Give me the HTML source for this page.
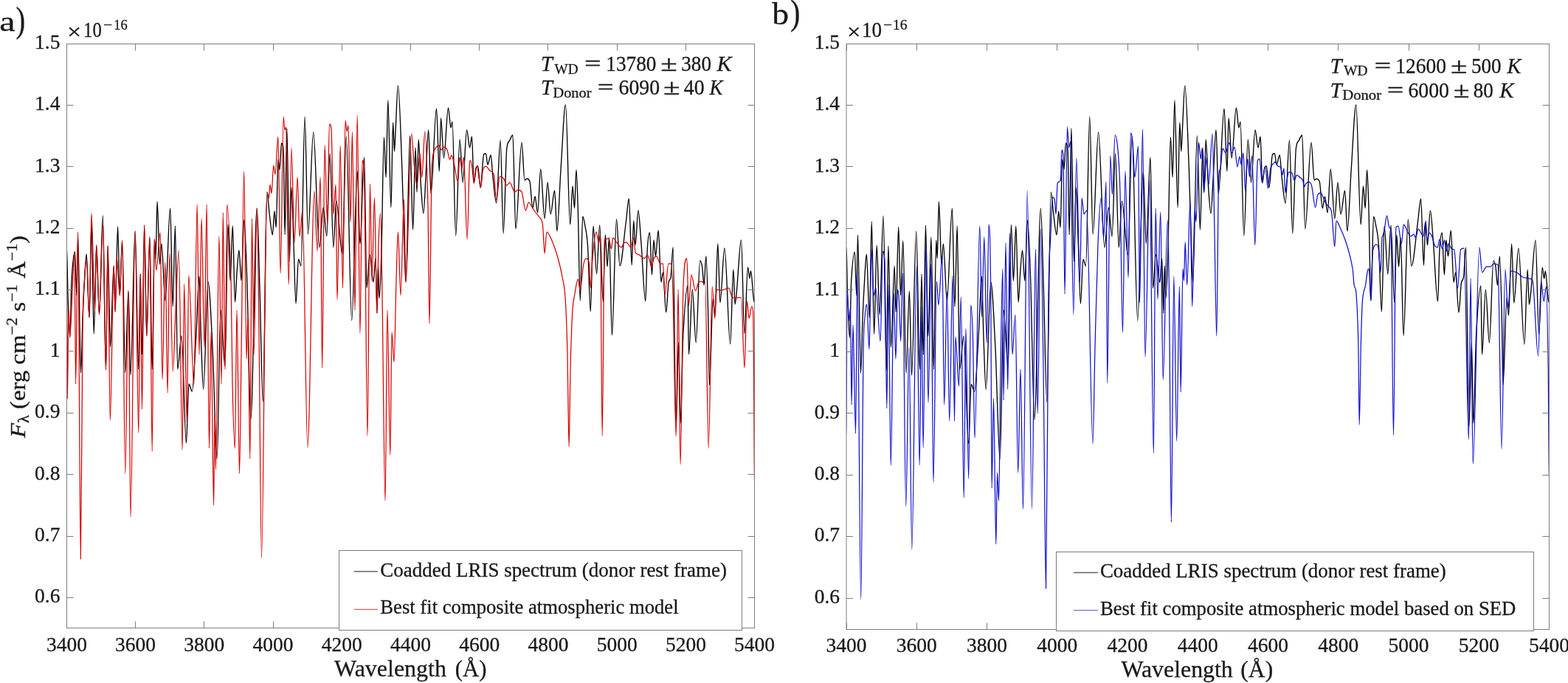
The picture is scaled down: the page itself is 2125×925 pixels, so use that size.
<!DOCTYPE html>
<html><head><meta charset="utf-8"><title>Spectra</title>
<style>html,body{margin:0;padding:0;background:#fff;overflow:hidden;}svg{display:block;}</style>
</head><body>
<svg width="2125" height="925" viewBox="0 0 2125 925" font-family="'Liberation Serif', 'DejaVu Serif', serif" fill="#1a1a1a" stroke="#1a1a1a" stroke-width="0.3">
<defs><clipPath id="ca"><rect x="90.4" y="59.6" width="932.2" height="790.9"/></clipPath><clipPath id="cb"><rect x="1147.0" y="59.3" width="952.5" height="793.0"/></clipPath></defs>
<g clip-path="url(#ca)">
<path d="M90.4,335.0C90.9,335.0 91.5,385.2 92.0,400.0C92.9,425.9 93.9,457.0 94.8,457.0C95.5,457.0 96.3,392.7 97.0,380.0C98.5,354.0 100.0,341.0 101.5,341.0C102.3,341.0 103.2,400.0 104.0,400.0C104.5,400.0 105.1,318.0 105.6,318.0C106.9,318.0 108.2,505.0 109.5,505.0C110.3,505.0 111.2,450.3 112.0,430.0C113.0,405.6 114.0,387.5 115.0,371.0C115.7,358.9 116.5,344.0 117.2,344.0C118.5,344.0 119.7,430.0 121.0,430.0C122.0,430.0 123.0,300.0 124.0,300.0C125.1,300.0 126.1,452.0 127.2,452.0C128.4,452.0 129.5,332.0 130.7,332.0C132.0,332.0 133.2,426.0 134.5,426.0C136.1,426.0 137.8,292.0 139.4,292.0C140.8,292.0 142.1,501.0 143.5,501.0C144.4,501.0 145.2,333.0 146.1,333.0C147.2,333.0 148.4,470.0 149.5,470.0C151.1,470.0 152.6,360.0 154.2,360.0C154.8,360.0 155.5,422.0 156.1,422.0C157.3,422.0 158.4,307.0 159.6,307.0C160.5,307.0 161.4,400.0 162.3,400.0C163.4,400.0 164.5,326.0 165.6,326.0C167.0,326.0 168.3,505.0 169.7,505.0C171.1,505.0 172.6,394.0 174.0,394.0C175.0,394.0 176.0,508.0 177.0,508.0C179.0,508.0 181.1,313.0 183.1,313.0C184.7,313.0 186.2,500.0 187.8,500.0C188.6,500.0 189.4,371.0 190.2,371.0C191.0,371.0 191.7,480.0 192.5,480.0C193.5,480.0 194.6,305.0 195.6,305.0C196.7,305.0 197.7,455.0 198.8,455.0C200.2,455.0 201.5,321.0 202.9,321.0C204.0,321.0 205.1,500.0 206.2,500.0C207.3,500.0 208.5,325.0 209.6,325.0C210.1,325.0 210.5,350.0 211.0,350.0C211.7,350.0 212.4,273.0 213.1,273.0C214.3,273.0 215.4,358.0 216.6,358.0C217.4,358.0 218.2,330.0 219.0,330.0C220.6,330.0 222.3,407.0 223.9,407.0C226.2,407.0 228.4,282.0 230.7,282.0C231.9,282.0 233.0,415.0 234.2,415.0C235.3,415.0 236.3,306.0 237.4,306.0C238.5,306.0 239.6,500.0 240.7,500.0C242.5,500.0 244.2,455.0 246.0,455.0C248.1,455.0 250.3,600.0 252.4,600.0C253.6,600.0 254.8,520.0 256.0,520.0C257.4,520.0 258.9,530.0 260.3,530.0C262.2,530.0 264.1,480.9 266.0,450.0C267.3,428.9 268.6,374.0 269.9,374.0C270.8,374.0 271.7,438.8 272.6,463.0C273.6,489.8 274.6,527.0 275.6,527.0C277.7,527.0 279.9,382.0 282.0,382.0C284.0,382.0 286.0,430.8 288.0,470.0C290.1,510.5 292.1,621.0 294.2,621.0C295.8,621.0 297.4,420.0 299.0,420.0C301.0,420.0 302.9,496.0 304.9,496.0C306.3,496.0 307.6,304.0 309.0,304.0C310.0,304.0 311.0,380.0 312.0,380.0C313.1,380.0 314.2,306.0 315.3,306.0C316.4,306.0 317.4,409.0 318.5,409.0C319.4,409.0 320.3,378.7 321.2,367.0C322.1,355.3 323.0,339.0 323.9,339.0C324.9,339.0 326.0,380.0 327.0,380.0C328.2,380.0 329.5,298.0 330.7,298.0C332.0,298.0 333.4,337.9 334.7,377.0C336.4,427.9 338.2,568.0 339.9,568.0C342.7,568.0 345.4,282.0 348.2,282.0C349.5,282.0 350.7,349.5 352.0,390.0C353.5,436.9 354.9,544.0 356.4,544.0C358.2,544.0 360.0,260.0 361.8,260.0C363.0,260.0 364.1,282.0 365.3,291.0C366.6,301.3 368.0,318.0 369.3,318.0C370.2,318.0 371.1,286.0 372.0,286.0C372.7,286.0 373.5,308.0 374.2,308.0C375.1,308.0 376.0,216.0 376.9,216.0C377.6,216.0 378.3,230.0 379.0,230.0C379.8,230.0 380.7,194.0 381.5,194.0C382.4,194.0 383.3,194.0 384.2,205.0C384.8,212.7 385.5,318.0 386.1,318.0C387.0,318.0 387.9,174.0 388.8,174.0C390.0,174.0 391.1,354.0 392.3,354.0C393.2,354.0 394.1,254.0 395.0,254.0C396.0,254.0 397.0,303.8 398.0,330.0C399.0,356.2 400.0,411.0 401.0,411.0C402.2,411.0 403.3,351.0 404.5,351.0C405.7,351.0 406.8,360.0 408.0,360.0C409.7,360.0 411.4,158.0 413.1,158.0C414.5,158.0 416.0,317.0 417.4,317.0C419.8,317.0 422.3,179.0 424.7,179.0C427.4,179.0 430.1,335.0 432.8,335.0C434.6,335.0 436.4,281.0 438.2,281.0C439.7,281.0 441.3,320.0 442.8,320.0C444.3,320.0 445.7,208.0 447.2,208.0C448.7,208.0 450.3,335.0 451.8,335.0C453.1,335.0 454.5,272.0 455.8,272.0C458.5,272.0 461.2,345.0 463.9,345.0C465.7,345.0 467.5,185.0 469.3,185.0C471.8,185.0 474.2,434.0 476.7,434.0C479.2,434.0 481.7,232.0 484.2,232.0C485.5,232.0 486.7,330.0 488.0,330.0C489.9,330.0 491.7,213.0 493.6,213.0C494.7,213.0 495.9,390.0 497.0,390.0C498.3,390.0 499.7,345.0 501.0,345.0C502.7,345.0 504.3,382.0 506.0,382.0C507.0,382.0 508.0,350.0 509.0,350.0C509.7,350.0 510.3,424.0 511.0,424.0C511.5,424.0 512.0,360.0 512.5,360.0C513.0,360.0 513.5,404.0 514.0,404.0C515.0,404.0 516.0,374.1 517.0,340.0C518.1,301.4 519.3,186.0 520.4,186.0C521.3,186.0 522.2,240.0 523.1,240.0C524.0,240.0 524.9,136.0 525.8,136.0C527.2,136.0 528.5,281.0 529.9,281.0C530.8,281.0 531.7,166.0 532.6,166.0C533.2,166.0 533.9,205.0 534.5,205.0C535.0,205.0 535.6,185.7 536.1,176.0C537.2,156.0 538.3,116.0 539.4,116.0C541.2,116.0 543.0,180.3 544.8,227.0C546.1,261.6 547.5,320.3 548.8,360.0C549.2,371.9 549.6,382.0 550.0,382.0C551.9,382.0 553.7,184.0 555.6,184.0C556.9,184.0 558.3,311.0 559.6,311.0C560.8,311.0 561.9,200.0 563.1,200.0C563.7,200.0 564.4,260.0 565.0,260.0C565.7,260.0 566.5,189.0 567.2,189.0C568.3,189.0 569.3,235.1 570.4,251.0C571.6,268.4 572.7,289.0 573.9,289.0C574.9,289.0 576.0,257.2 577.0,240.0C578.2,219.5 579.5,176.0 580.7,176.0C581.8,176.0 582.9,262.0 584.0,262.0C586.5,262.0 589.0,147.0 591.5,147.0C592.8,147.0 594.0,232.0 595.3,232.0C596.0,232.0 596.8,160.0 597.5,160.0C598.8,160.0 600.2,214.0 601.5,214.0C603.5,214.0 605.5,146.0 607.5,146.0C608.7,146.0 609.8,173.0 611.0,173.0C611.7,173.0 612.3,165.0 613.0,165.0C614.6,165.0 616.1,319.0 617.7,319.0C619.5,319.0 621.3,189.0 623.1,189.0C624.5,189.0 625.8,247.0 627.2,247.0C629.0,247.0 630.8,176.0 632.6,176.0C633.9,176.0 635.3,200.0 636.6,200.0C637.6,200.0 638.5,185.0 639.5,185.0C640.4,185.0 641.3,248.0 642.2,248.0C643.1,248.0 644.0,231.0 644.9,228.0C645.8,225.0 646.7,225.0 647.6,225.0C648.8,225.0 649.9,254.0 651.1,254.0C652.6,254.0 654.2,210.7 655.7,209.0C656.6,208.0 657.5,208.0 658.4,208.0C659.3,208.0 660.1,223.0 661.0,223.0C662.4,223.0 663.7,210.0 665.1,210.0C666.1,210.0 667.0,231.7 668.0,240.0C669.6,253.4 671.1,275.0 672.7,275.0C674.5,275.0 676.3,190.0 678.1,190.0C679.5,190.0 680.8,316.0 682.2,316.0C683.7,316.0 685.3,213.6 686.8,201.0C688.1,190.0 689.5,193.0 690.8,190.0C692.2,187.0 693.5,183.0 694.9,183.0C696.2,183.0 697.6,310.0 698.9,310.0C701.6,310.0 704.3,193.0 707.0,193.0C708.3,193.0 709.7,244.0 711.0,244.0C712.0,244.0 713.0,242.0 714.0,242.0C715.3,242.0 716.7,242.0 718.0,246.0C719.3,249.9 720.6,282.0 721.9,282.0C723.0,282.0 724.0,266.0 725.1,266.0C726.3,266.0 727.4,288.0 728.6,288.0C730.0,288.0 731.3,229.0 732.7,229.0C734.5,229.0 736.3,296.0 738.1,296.0C739.5,296.0 740.8,247.0 742.2,247.0C743.5,247.0 744.9,290.0 746.2,290.0C748.0,290.0 749.8,258.0 751.6,258.0C752.7,258.0 753.8,313.0 754.9,313.0C756.6,313.0 758.3,255.1 760.0,230.0C762.2,198.1 764.3,142.0 766.5,142.0C768.6,142.0 770.6,304.0 772.7,304.0C773.8,304.0 774.9,252.0 776.0,252.0C776.9,252.0 777.7,282.0 778.6,282.0C779.4,282.0 780.2,230.0 781.0,230.0C781.7,230.0 782.5,255.5 783.2,280.0C784.2,314.5 785.3,407.0 786.3,407.0C787.4,407.0 788.6,293.0 789.7,293.0C790.7,293.0 791.7,299.1 792.7,305.0C794.0,312.5 795.2,313.5 796.5,333.0C797.8,352.5 799.0,422.0 800.3,422.0C801.5,422.0 802.8,306.0 804.0,306.0C805.5,306.0 807.1,371.0 808.6,371.0C810.0,371.0 811.3,305.0 812.7,305.0C814.2,305.0 815.8,409.0 817.3,409.0C818.3,409.0 819.3,318.0 820.3,318.0C821.2,318.0 822.1,361.0 823.0,361.0C823.9,361.0 824.7,322.0 825.6,322.0C826.9,322.0 828.1,454.0 829.4,454.0C831.4,454.0 833.5,297.0 835.5,297.0C837.0,297.0 838.5,360.0 840.0,360.0C842.8,360.0 845.5,321.3 848.3,301.0C849.7,291.0 851.0,269.0 852.4,269.0C853.7,269.0 854.9,359.0 856.2,359.0C857.0,359.0 857.9,299.0 858.7,299.0C859.5,299.0 860.3,332.0 861.1,332.0C862.4,332.0 863.6,285.0 864.9,285.0C866.3,285.0 867.6,313.0 869.0,330.0C870.9,354.0 872.9,408.0 874.8,408.0C875.6,408.0 876.5,350.6 877.3,337.0C878.4,319.6 879.4,315.0 880.5,315.0C881.5,315.0 882.5,372.0 883.5,372.0C884.3,372.0 885.2,325.0 886.0,325.0C886.8,325.0 887.7,347.0 888.5,347.0C889.7,347.0 891.0,312.0 892.2,312.0C893.5,312.0 894.7,382.0 896.0,382.0C896.8,382.0 897.7,369.0 898.5,369.0C899.9,369.0 901.3,423.0 902.7,423.0C903.8,423.0 904.8,392.0 905.9,384.0C907.0,375.7 908.1,382.7 909.2,374.0C910.2,366.4 911.1,335.0 912.1,335.0C913.5,335.0 914.8,577.0 916.2,577.0C917.4,577.0 918.5,464.0 919.7,464.0C920.5,464.0 921.3,573.0 922.1,573.0C923.3,573.0 924.6,477.2 925.8,454.0C927.9,415.2 929.9,387.0 932.0,387.0C932.5,387.0 933.0,480.0 933.5,480.0C935.1,480.0 936.7,392.0 938.3,392.0C939.9,392.0 941.6,464.0 943.2,464.0C945.0,464.0 946.9,353.0 948.7,353.0C949.7,353.0 950.7,355.8 951.7,362.0C952.5,366.8 953.2,386.0 954.0,386.0C955.0,386.0 955.9,347.0 956.9,347.0C957.8,347.0 958.8,389.9 959.7,426.0C960.3,447.9 960.8,521.0 961.4,521.0C963.1,521.0 964.7,403.0 966.4,403.0C967.2,403.0 968.0,427.0 968.8,427.0C970.1,427.0 971.5,330.0 972.8,330.0C973.8,330.0 974.9,410.0 975.9,410.0C977.9,410.0 979.9,336.0 981.9,336.0C984.5,336.0 987.1,466.0 989.7,466.0C991.1,466.0 992.4,365.0 993.8,365.0C994.6,365.0 995.3,412.0 996.1,412.0C996.9,412.0 997.7,401.3 998.5,393.0C1000.5,372.3 1002.5,325.0 1004.5,325.0C1006.0,325.0 1007.4,452.0 1008.9,452.0C1010.4,452.0 1012.0,362.0 1013.5,362.0C1014.3,362.0 1015.1,377.0 1015.9,377.0C1016.4,377.0 1017.0,367.0 1017.5,367.0C1018.7,367.0 1019.9,392.9 1021.1,403.0C1021.6,407.2 1022.1,410.0 1022.6,410.0" fill="none" stroke="#000" stroke-width="1.35" stroke-linejoin="round" stroke-opacity="1.0"/>
<path d="M90.4,345.0C90.7,345.0 91.0,540.0 91.3,540.0C91.9,540.0 92.4,420.0 93.0,420.0C93.6,420.0 94.2,455.0 94.8,455.0C95.9,455.0 96.9,414.6 98.0,395.0C99.0,376.6 100.0,341.0 101.0,341.0C101.5,341.0 102.1,520.0 102.6,520.0C103.6,520.0 104.6,314.0 105.6,314.0C106.8,314.0 108.1,757.0 109.3,757.0C110.2,757.0 111.1,510.9 112.0,450.0C113.0,382.3 114.0,389.8 115.0,371.0C115.7,357.2 116.5,352.0 117.2,352.0C118.5,352.0 119.7,430.0 121.0,430.0C122.0,430.0 123.0,289.0 124.0,289.0C125.5,289.0 127.0,422.0 128.5,422.0C129.2,422.0 130.0,332.0 130.7,332.0C132.0,332.0 133.2,426.0 134.5,426.0C136.1,426.0 137.8,305.0 139.4,305.0C140.8,305.0 142.1,501.0 143.5,501.0C144.4,501.0 145.2,333.0 146.1,333.0C147.2,333.0 148.2,569.0 149.3,569.0C150.9,569.0 152.6,360.0 154.2,360.0C154.8,360.0 155.5,422.0 156.1,422.0C156.8,422.0 157.6,349.0 158.3,349.0C159.6,349.0 161.0,400.0 162.3,400.0C163.4,400.0 164.5,326.0 165.6,326.0C167.0,326.0 168.3,642.0 169.7,642.0C171.1,642.0 172.6,394.0 174.0,394.0C175.0,394.0 176.0,700.0 177.0,700.0C179.0,700.0 181.1,313.0 183.1,313.0C184.7,313.0 186.2,586.0 187.8,586.0C188.6,586.0 189.4,371.0 190.2,371.0C191.0,371.0 191.7,554.0 192.5,554.0C193.5,554.0 194.6,305.0 195.6,305.0C196.7,305.0 197.7,455.0 198.8,455.0C200.2,455.0 201.5,321.0 202.9,321.0C204.0,321.0 205.1,611.0 206.2,611.0C207.1,611.0 208.1,323.0 209.0,323.0C209.9,323.0 210.9,366.0 211.8,366.0C213.6,366.0 215.4,315.0 217.2,315.0C218.1,315.0 219.1,514.0 220.0,514.0C221.3,514.0 222.6,355.0 223.9,355.0C225.0,355.0 226.0,532.0 227.1,532.0C228.0,532.0 229.0,343.0 229.9,343.0C231.4,343.0 232.8,503.0 234.3,503.0C235.5,503.0 236.8,445.3 238.0,420.0C239.4,390.6 240.9,339.0 242.3,339.0C243.9,339.0 245.5,609.0 247.1,609.0C247.9,609.0 248.8,385.0 249.6,385.0C250.8,385.0 252.0,571.0 253.2,571.0C254.1,571.0 254.9,373.0 255.8,373.0C258.1,373.0 260.5,521.0 262.8,521.0C264.3,521.0 265.7,277.0 267.2,277.0C268.1,277.0 269.1,480.0 270.0,480.0C271.0,480.0 272.1,296.0 273.1,296.0C274.4,296.0 275.7,470.0 277.0,470.0C278.0,470.0 279.1,277.0 280.1,277.0C281.2,277.0 282.4,607.0 283.5,607.0C284.3,607.0 285.2,450.0 286.0,450.0C287.2,450.0 288.4,684.0 289.6,684.0C290.1,684.0 290.5,560.0 291.0,560.0C291.5,560.0 291.9,636.0 292.4,636.0C293.9,636.0 295.4,320.0 296.9,320.0C297.9,320.0 299.0,520.0 300.0,520.0C300.8,520.0 301.5,288.0 302.3,288.0C303.2,288.0 304.1,500.0 305.0,500.0C305.9,500.0 306.8,277.0 307.7,277.0C309.5,277.0 311.3,322.1 313.1,382.0C313.7,403.1 314.4,493.1 315.0,520.0C316.1,568.1 317.3,607.0 318.4,607.0C319.3,607.0 320.1,420.0 321.0,420.0C322.2,420.0 323.3,641.0 324.5,641.0C325.3,641.0 326.2,535.0 327.0,480.0C328.2,398.6 329.5,232.0 330.7,232.0C331.8,232.0 333.0,486.0 334.1,486.0C334.7,486.0 335.4,430.0 336.0,430.0C336.9,430.0 337.9,621.0 338.8,621.0C339.7,621.0 340.6,296.0 341.5,296.0C342.3,296.0 343.2,480.0 344.0,480.0C345.4,480.0 346.8,282.0 348.2,282.0C349.1,282.0 350.1,379.8 351.0,450.0C352.2,537.8 353.3,756.0 354.5,756.0C356.3,756.0 358.2,441.8 360.0,330.0C360.9,277.1 361.7,262.0 362.6,262.0C363.2,262.0 363.9,268.0 364.5,268.0C365.0,268.0 365.5,250.0 366.0,250.0C366.7,250.0 367.3,262.0 368.0,262.0C368.9,262.0 369.8,224.0 370.7,224.0C371.5,224.0 372.2,236.0 373.0,236.0C374.3,236.0 375.6,185.0 376.9,185.0C378.0,185.0 379.0,370.0 380.1,370.0C381.5,370.0 382.8,158.0 384.2,158.0C384.7,158.0 385.3,176.0 385.8,176.0C386.4,176.0 387.1,172.0 387.7,172.0C388.9,172.0 390.0,385.0 391.2,385.0C392.5,385.0 393.7,200.0 395.0,200.0C396.3,200.0 397.7,329.0 399.0,329.0C400.4,329.0 401.7,240.0 403.1,240.0C404.1,240.0 405.0,320.0 406.0,320.0C407.3,320.0 408.6,286.0 409.9,286.0C412.2,286.0 414.6,606.0 416.9,606.0C419.9,606.0 423.0,259.0 426.0,259.0C427.3,259.0 428.7,340.0 430.0,340.0C431.4,340.0 432.8,240.0 434.2,240.0C435.0,240.0 435.8,498.0 436.6,498.0C437.8,498.0 438.9,197.0 440.1,197.0C441.3,197.0 442.4,302.0 443.6,302.0C444.5,302.0 445.5,168.0 446.4,168.0C447.3,168.0 448.1,168.0 449.0,175.0C450.0,183.1 451.0,290.0 452.0,290.0C453.0,290.0 454.0,250.0 455.0,250.0C455.7,250.0 456.3,406.0 457.0,406.0C458.4,406.0 459.8,197.0 461.2,197.0C462.3,197.0 463.4,390.0 464.5,390.0C465.7,390.0 466.8,163.0 468.0,163.0C468.7,163.0 469.3,178.0 470.0,178.0C470.7,178.0 471.3,170.0 472.0,170.0C473.0,170.0 474.0,300.0 475.0,300.0C475.8,300.0 476.6,179.0 477.4,179.0C478.6,179.0 479.8,420.0 481.0,420.0C482.1,420.0 483.1,156.0 484.2,156.0C485.5,156.0 486.7,451.0 488.0,451.0C489.0,451.0 490.0,217.0 491.0,217.0C492.0,217.0 493.0,217.0 494.0,260.0C495.3,317.3 496.7,590.0 498.0,590.0C499.2,590.0 500.3,249.0 501.5,249.0C502.3,249.0 503.2,380.0 504.0,380.0C505.2,380.0 506.3,268.0 507.5,268.0C508.6,268.0 509.7,424.0 510.8,424.0C511.5,424.0 512.3,350.6 513.0,330.0C513.9,305.6 514.7,289.0 515.6,289.0C516.4,289.0 517.2,351.4 518.0,400.0C519.3,481.0 520.7,678.0 522.0,678.0C523.0,678.0 524.0,420.0 525.0,420.0C526.3,420.0 527.5,616.0 528.8,616.0C529.5,616.0 530.3,450.0 531.0,450.0C532.0,450.0 533.0,490.0 534.0,490.0C535.0,490.0 536.0,412.6 537.0,380.0C537.8,353.9 538.6,314.0 539.4,314.0C540.6,314.0 541.8,400.0 543.0,400.0C544.5,400.0 546.0,270.0 547.5,270.0C548.3,270.0 549.2,382.0 550.0,382.0C552.6,382.0 555.1,181.0 557.7,181.0C558.8,181.0 559.9,209.5 561.0,220.0C562.3,232.8 563.7,251.0 565.0,251.0C566.4,251.0 567.7,208.0 569.1,208.0C570.0,208.0 570.9,240.0 571.8,240.0C573.1,240.0 574.5,178.0 575.8,178.0C577.2,178.0 578.5,218.7 579.9,276.0C580.6,305.4 581.3,438.0 582.0,438.0C583.1,438.0 584.2,238.7 585.3,224.0C587.1,200.0 588.9,204.0 590.7,200.0C592.1,197.0 593.4,197.0 594.8,197.0C595.9,197.0 596.9,203.0 598.0,203.0C599.3,203.0 600.7,199.0 602.0,199.0C603.3,199.0 604.7,200.0 606.0,203.0C607.2,205.7 608.4,216.0 609.6,216.0C610.4,216.0 611.2,210.0 612.0,210.0C613.3,210.0 614.7,219.3 616.0,225.0C617.5,231.3 618.9,246.0 620.4,246.0C621.3,246.0 622.2,213.0 623.1,213.0C624.1,213.0 625.0,228.0 626.0,228.0C626.8,228.0 627.7,213.0 628.5,213.0C630.0,213.0 631.6,324.0 633.1,324.0C634.3,324.0 635.4,226.0 636.6,219.0C636.9,217.0 637.3,217.0 637.6,217.0C638.4,217.0 639.2,222.6 640.0,228.0C640.7,232.9 641.5,248.0 642.2,248.0C643.5,248.0 644.9,225.0 646.2,225.0C648.0,225.0 649.8,254.0 651.6,254.0C652.5,254.0 653.4,234.8 654.3,231.0C655.7,225.2 657.0,225.0 658.4,225.0C660.2,225.0 662.0,229.2 663.8,231.0C665.6,232.8 667.4,231.0 669.2,236.0C670.4,239.2 671.5,271.0 672.7,271.0C674.2,271.0 675.8,239.0 677.3,239.0C679.1,239.0 680.9,239.7 682.7,242.0C684.1,243.7 685.4,251.0 686.8,251.0C688.1,251.0 689.5,247.0 690.8,247.0C693.1,247.0 695.3,260.0 697.6,260.0C699.1,260.0 700.5,257.0 702.0,257.0C703.7,257.0 705.3,257.0 707.0,260.0C708.8,263.2 710.6,285.0 712.4,285.0C713.8,285.0 715.1,274.0 716.5,274.0C718.3,274.0 720.1,279.3 721.9,282.0C723.3,284.0 724.6,286.1 726.0,288.0C727.3,289.8 728.7,290.7 730.0,293.0C731.8,296.1 733.6,293.0 735.4,304.0C736.3,309.5 737.2,343.0 738.1,343.0C739.0,343.0 740.0,314.0 740.9,314.0C743.6,314.0 746.2,321.6 748.9,328.0C751.5,334.3 754.2,342.6 756.8,352.0C758.5,358.2 760.3,365.2 762.0,375.0C763.4,382.9 764.8,384.0 766.2,405.0C767.1,419.0 768.1,441.9 769.0,480.0C769.7,508.6 770.4,605.0 771.1,605.0C771.7,605.0 772.4,524.9 773.0,500.0C773.9,464.6 774.8,439.3 775.7,424.0C776.8,405.3 777.9,404.7 779.0,398.0C780.4,389.4 781.8,378.0 783.2,378.0C784.2,378.0 785.3,393.0 786.3,393.0C787.8,393.0 789.3,365.8 790.8,358.0C792.1,351.4 793.3,350.0 794.6,350.0C795.9,350.0 797.1,350.0 798.4,356.0C799.0,359.0 799.7,390.0 800.3,390.0C801.2,390.0 802.1,359.1 803.0,350.0C804.6,333.8 806.2,314.0 807.8,314.0C809.1,314.0 810.3,329.0 811.6,329.0C812.2,329.0 812.9,318.0 813.5,318.0C814.4,318.0 815.3,590.0 816.2,590.0C817.2,590.0 818.2,326.1 819.2,325.0C821.1,323.0 823.0,323.0 824.9,323.0C826.1,323.0 827.4,337.0 828.6,337.0C829.2,337.0 829.9,322.0 830.5,322.0C832.4,322.0 834.3,326.8 836.2,329.0C838.1,331.2 840.0,335.0 841.9,335.0C843.2,335.0 844.4,330.3 845.7,329.0C846.7,328.0 847.7,328.0 848.7,328.0C850.8,328.0 852.9,335.0 855.0,335.0C856.2,335.0 857.5,322.0 858.7,322.0C859.5,322.0 860.3,340.5 861.1,342.0C862.7,345.0 864.4,343.9 866.0,345.0C867.3,345.9 868.6,347.1 869.9,348.0C871.1,348.8 872.4,350.0 873.6,350.0C874.8,350.0 876.1,345.0 877.3,345.0C878.5,345.0 879.8,351.2 881.0,355.0C881.6,356.9 882.2,362.0 882.8,362.0C883.9,362.0 884.9,352.3 886.0,350.0C887.3,347.3 888.5,347.0 889.8,347.0C891.4,347.0 893.1,357.0 894.7,357.0C896.0,357.0 897.2,357.0 898.5,357.0C899.3,357.0 900.2,399.0 901.0,399.0C902.6,399.0 904.3,357.0 905.9,357.0C907.1,357.0 908.4,357.0 909.6,357.0C910.4,357.0 911.2,371.6 912.0,400.0C913.4,449.6 914.8,591.0 916.2,591.0C917.2,591.0 918.1,392.0 919.1,392.0C920.1,392.0 921.1,629.0 922.1,629.0C923.4,629.0 924.7,417.1 926.0,387.0C927.6,350.0 929.2,350.0 930.8,350.0C931.6,350.0 932.5,414.0 933.3,414.0C934.5,414.0 935.8,372.0 937.0,372.0C938.8,372.0 940.7,394.0 942.5,394.0C944.0,394.0 945.5,383.2 947.0,382.0C948.2,381.0 949.5,381.0 950.7,381.0C951.9,381.0 953.2,384.0 954.4,384.0C954.8,384.0 955.3,382.0 955.7,382.0C957.2,382.0 958.7,607.0 960.2,607.0C961.9,607.0 963.5,388.0 965.2,388.0C966.4,388.0 967.6,431.0 968.8,431.0C969.6,431.0 970.4,392.0 971.2,392.0C973.2,392.0 975.1,393.0 977.1,393.0C978.7,393.0 980.3,392.4 981.9,392.0C983.9,391.4 985.8,390.0 987.8,390.0C989.4,390.0 991.0,403.0 992.6,403.0C994.6,403.0 996.5,403.0 998.5,403.0C1000.5,403.0 1002.5,403.0 1004.5,403.0C1006.0,403.0 1007.4,498.0 1008.9,498.0C1010.0,498.0 1011.2,408.0 1012.3,408.0C1013.3,408.0 1014.2,431.0 1015.2,431.0C1016.4,431.0 1017.5,415.0 1018.7,415.0C1019.3,415.0 1019.9,415.0 1020.5,421.0C1020.8,424.3 1021.2,460.8 1021.5,500.0C1021.9,543.1 1022.2,668.0 1022.6,668.0" fill="none" stroke="#d80000" stroke-width="1.25" stroke-linejoin="round" stroke-opacity="1.0"/>
</g>
<g clip-path="url(#cb)">
<path d="M1147.0,335.1C1147.5,335.1 1148.1,385.4 1148.6,400.2C1149.6,426.1 1150.5,457.2 1151.5,457.2C1152.2,457.2 1153.0,392.9 1153.7,380.2C1155.3,354.2 1156.8,341.1 1158.3,341.1C1159.2,341.1 1160.0,400.2 1160.9,400.2C1161.4,400.2 1162.0,318.1 1162.5,318.1C1163.9,318.1 1165.2,505.3 1166.5,505.3C1167.4,505.3 1168.2,450.5 1169.1,430.2C1170.1,405.8 1171.1,387.7 1172.1,371.2C1172.9,359.0 1173.6,344.1 1174.4,344.1C1175.7,344.1 1177.0,430.2 1178.3,430.2C1179.3,430.2 1180.3,300.1 1181.3,300.1C1182.4,300.1 1183.5,452.2 1184.6,452.2C1185.8,452.2 1187.0,332.1 1188.2,332.1C1189.5,332.1 1190.8,426.2 1192.1,426.2C1193.7,426.2 1195.4,292.1 1197.1,292.1C1198.5,292.1 1199.9,501.3 1201.3,501.3C1202.1,501.3 1203.0,333.1 1203.9,333.1C1205.1,333.1 1206.2,470.2 1207.4,470.2C1209.0,470.2 1210.6,360.2 1212.2,360.2C1212.8,360.2 1213.5,422.2 1214.1,422.2C1215.3,422.2 1216.5,307.1 1217.7,307.1C1218.6,307.1 1219.5,400.2 1220.5,400.2C1221.6,400.2 1222.7,326.1 1223.8,326.1C1225.2,326.1 1226.6,505.3 1228.0,505.3C1229.5,505.3 1231.0,394.2 1232.4,394.2C1233.4,394.2 1234.5,508.3 1235.5,508.3C1237.6,508.3 1239.6,313.1 1241.7,313.1C1243.3,313.1 1244.9,500.3 1246.5,500.3C1247.3,500.3 1248.2,371.2 1249.0,371.2C1249.8,371.2 1250.5,480.3 1251.3,480.3C1252.4,480.3 1253.4,305.1 1254.5,305.1C1255.6,305.1 1256.7,455.2 1257.8,455.2C1259.2,455.2 1260.6,321.1 1261.9,321.1C1263.1,321.1 1264.2,500.3 1265.3,500.3C1266.5,500.3 1267.6,325.1 1268.8,325.1C1269.3,325.1 1269.7,350.1 1270.2,350.1C1270.9,350.1 1271.7,273.1 1272.4,273.1C1273.6,273.1 1274.8,358.2 1275.9,358.2C1276.8,358.2 1277.6,330.1 1278.4,330.1C1280.1,330.1 1281.7,407.2 1283.4,407.2C1285.7,407.2 1288.0,282.1 1290.4,282.1C1291.5,282.1 1292.7,415.2 1293.9,415.2C1295.0,415.2 1296.1,306.1 1297.2,306.1C1298.3,306.1 1299.4,500.3 1300.6,500.3C1302.4,500.3 1304.2,455.2 1306.0,455.2C1308.2,455.2 1310.3,600.4 1312.5,600.4C1313.8,600.4 1315.0,520.3 1316.2,520.3C1317.7,520.3 1319.1,530.3 1320.6,530.3C1322.5,530.3 1324.5,481.1 1326.4,450.2C1327.8,429.1 1329.1,374.2 1330.4,374.2C1331.3,374.2 1332.2,439.1 1333.2,463.2C1334.2,490.1 1335.2,527.3 1336.2,527.3C1338.4,527.3 1340.6,382.2 1342.8,382.2C1344.8,382.2 1346.9,431.0 1348.9,470.2C1351.0,510.8 1353.1,621.4 1355.2,621.4C1356.9,621.4 1358.5,420.2 1360.1,420.2C1362.2,420.2 1364.2,496.3 1366.2,496.3C1367.6,496.3 1369.0,304.1 1370.4,304.1C1371.4,304.1 1372.4,380.2 1373.4,380.2C1374.5,380.2 1375.7,306.1 1376.8,306.1C1377.9,306.1 1379.0,409.2 1380.1,409.2C1381.0,409.2 1381.9,378.8 1382.8,367.2C1383.7,355.5 1384.7,339.1 1385.6,339.1C1386.6,339.1 1387.7,380.2 1388.8,380.2C1390.0,380.2 1391.3,298.1 1392.5,298.1C1393.9,298.1 1395.3,338.0 1396.6,377.2C1398.4,428.1 1400.2,568.3 1401.9,568.3C1404.8,568.3 1407.6,282.1 1410.4,282.1C1411.7,282.1 1413.0,349.7 1414.3,390.2C1415.8,437.1 1417.3,544.3 1418.8,544.3C1420.6,544.3 1422.5,260.1 1424.3,260.1C1425.5,260.1 1426.7,282.1 1427.9,291.1C1429.2,301.4 1430.6,318.1 1432.0,318.1C1432.9,318.1 1433.8,286.1 1434.7,286.1C1435.5,286.1 1436.2,308.1 1437.0,308.1C1437.9,308.1 1438.8,216.0 1439.7,216.0C1440.5,216.0 1441.2,230.0 1441.9,230.0C1442.7,230.0 1443.6,194.0 1444.4,194.0C1445.4,194.0 1446.3,194.0 1447.2,205.0C1447.8,212.8 1448.5,318.1 1449.1,318.1C1450.1,318.1 1451.0,174.0 1451.9,174.0C1453.1,174.0 1454.3,354.1 1455.5,354.1C1456.4,354.1 1457.3,254.1 1458.2,254.1C1459.3,254.1 1460.3,303.9 1461.3,330.1C1462.3,356.3 1463.3,411.2 1464.4,411.2C1465.6,411.2 1466.7,351.1 1467.9,351.1C1469.1,351.1 1470.3,360.2 1471.5,360.2C1473.3,360.2 1475.0,158.0 1476.7,158.0C1478.2,158.0 1479.7,317.1 1481.1,317.1C1483.6,317.1 1486.1,179.0 1488.6,179.0C1491.3,179.0 1494.1,335.1 1496.9,335.1C1498.7,335.1 1500.5,281.1 1502.4,281.1C1503.9,281.1 1505.5,320.1 1507.1,320.1C1508.6,320.1 1510.1,208.0 1511.6,208.0C1513.1,208.0 1514.7,335.1 1516.3,335.1C1517.6,335.1 1519.0,272.1 1520.4,272.1C1523.1,272.1 1525.9,345.1 1528.6,345.1C1530.5,345.1 1532.3,185.0 1534.2,185.0C1536.7,185.0 1539.2,434.2 1541.7,434.2C1544.3,434.2 1546.8,232.0 1549.4,232.0C1550.7,232.0 1552.0,330.1 1553.3,330.1C1555.2,330.1 1557.1,213.0 1559.0,213.0C1560.1,213.0 1561.3,390.2 1562.5,390.2C1563.8,390.2 1565.2,345.1 1566.5,345.1C1568.2,345.1 1569.9,382.2 1571.7,382.2C1572.7,382.2 1573.7,350.1 1574.7,350.1C1575.4,350.1 1576.1,424.2 1576.8,424.2C1577.3,424.2 1577.8,360.2 1578.3,360.2C1578.8,360.2 1579.3,404.2 1579.8,404.2C1580.8,404.2 1581.9,374.2 1582.9,340.1C1584.0,301.5 1585.2,186.0 1586.4,186.0C1587.3,186.0 1588.2,240.1 1589.1,240.1C1590.0,240.1 1591.0,136.0 1591.9,136.0C1593.3,136.0 1594.7,281.1 1596.1,281.1C1597.0,281.1 1597.9,166.0 1598.8,166.0C1599.5,166.0 1600.1,205.0 1600.8,205.0C1601.3,205.0 1601.9,185.7 1602.4,176.0C1603.5,156.0 1604.7,115.9 1605.8,115.9C1607.6,115.9 1609.5,180.3 1611.3,227.0C1612.7,261.7 1614.0,320.4 1615.4,360.2C1615.8,372.1 1616.2,382.2 1616.6,382.2C1618.5,382.2 1620.4,184.0 1622.3,184.0C1623.7,184.0 1625.1,311.1 1626.4,311.1C1627.6,311.1 1628.8,200.0 1630.0,200.0C1630.6,200.0 1631.3,260.1 1631.9,260.1C1632.7,260.1 1633.4,189.0 1634.2,189.0C1635.3,189.0 1636.4,235.1 1637.5,251.1C1638.6,268.5 1639.8,289.1 1641.0,289.1C1642.1,289.1 1643.1,257.2 1644.2,240.1C1645.5,219.5 1646.7,176.0 1648.0,176.0C1649.1,176.0 1650.2,262.1 1651.3,262.1C1653.9,262.1 1656.5,147.0 1659.0,147.0C1660.3,147.0 1661.6,232.0 1662.9,232.0C1663.6,232.0 1664.4,160.0 1665.1,160.0C1666.5,160.0 1667.9,214.0 1669.2,214.0C1671.3,214.0 1673.3,146.0 1675.4,146.0C1676.6,146.0 1677.7,173.0 1678.9,173.0C1679.6,173.0 1680.3,165.0 1681.0,165.0C1682.6,165.0 1684.2,319.1 1685.8,319.1C1687.6,319.1 1689.5,189.0 1691.3,189.0C1692.7,189.0 1694.1,247.1 1695.5,247.1C1697.3,247.1 1699.2,176.0 1701.0,176.0C1702.4,176.0 1703.7,200.0 1705.1,200.0C1706.1,200.0 1707.1,185.0 1708.1,185.0C1709.0,185.0 1709.9,248.1 1710.8,248.1C1711.7,248.1 1712.7,231.0 1713.6,228.0C1714.5,225.0 1715.4,225.0 1716.3,225.0C1717.5,225.0 1718.7,254.1 1719.9,254.1C1721.5,254.1 1723.0,210.7 1724.6,209.0C1725.5,208.0 1726.4,208.0 1727.4,208.0C1728.3,208.0 1729.1,223.0 1730.0,223.0C1731.4,223.0 1732.8,210.0 1734.2,210.0C1735.2,210.0 1736.2,231.8 1737.2,240.1C1738.8,253.5 1740.4,275.1 1742.0,275.1C1743.8,275.1 1745.7,190.0 1747.5,190.0C1748.9,190.0 1750.3,316.1 1751.7,316.1C1753.3,316.1 1754.8,213.7 1756.4,201.0C1757.7,190.0 1759.1,193.0 1760.5,190.0C1761.9,187.0 1763.3,183.0 1764.7,183.0C1766.0,183.0 1767.4,310.1 1768.8,310.1C1771.5,310.1 1774.3,193.0 1777.0,193.0C1778.4,193.0 1779.8,244.1 1781.1,244.1C1782.1,244.1 1783.2,242.1 1784.2,242.1C1785.5,242.1 1786.9,242.1 1788.3,246.1C1789.6,250.0 1790.9,282.1 1792.3,282.1C1793.3,282.1 1794.4,266.1 1795.5,266.1C1796.7,266.1 1797.9,288.1 1799.1,288.1C1800.5,288.1 1801.9,229.0 1803.3,229.0C1805.1,229.0 1807.0,296.1 1808.8,296.1C1810.2,296.1 1811.6,247.1 1813.0,247.1C1814.4,247.1 1815.7,290.1 1817.1,290.1C1818.9,290.1 1820.8,258.1 1822.6,258.1C1823.7,258.1 1824.8,313.1 1826.0,313.1C1827.7,313.1 1829.4,255.1 1831.2,230.0C1833.4,198.1 1835.6,142.0 1837.8,142.0C1839.9,142.0 1842.0,304.1 1844.2,304.1C1845.3,304.1 1846.4,252.1 1847.5,252.1C1848.4,252.1 1849.3,282.1 1850.2,282.1C1851.0,282.1 1851.8,230.0 1852.6,230.0C1853.4,230.0 1854.1,255.6 1854.9,280.1C1855.9,314.6 1857.0,407.2 1858.1,407.2C1859.2,407.2 1860.4,293.1 1861.5,293.1C1862.6,293.1 1863.6,299.2 1864.6,305.1C1865.9,312.6 1867.2,313.6 1868.5,333.1C1869.8,352.6 1871.1,422.2 1872.4,422.2C1873.6,422.2 1874.9,306.1 1876.1,306.1C1877.7,306.1 1879.3,371.2 1880.8,371.2C1882.2,371.2 1883.6,305.1 1885.0,305.1C1886.6,305.1 1888.2,409.2 1889.7,409.2C1890.8,409.2 1891.8,318.1 1892.8,318.1C1893.7,318.1 1894.6,361.2 1895.6,361.2C1896.4,361.2 1897.3,322.1 1898.2,322.1C1899.5,322.1 1900.8,454.2 1902.1,454.2C1904.2,454.2 1906.2,297.1 1908.3,297.1C1909.9,297.1 1911.4,360.2 1912.9,360.2C1915.8,360.2 1918.6,321.4 1921.4,301.1C1922.8,291.1 1924.2,269.1 1925.6,269.1C1926.9,269.1 1928.2,359.2 1929.5,359.2C1930.3,359.2 1931.2,299.1 1932.0,299.1C1932.8,299.1 1933.7,332.1 1934.5,332.1C1935.8,332.1 1937.1,285.1 1938.4,285.1C1939.8,285.1 1941.2,313.1 1942.6,330.1C1944.5,354.2 1946.5,408.2 1948.5,408.2C1949.3,408.2 1950.2,350.7 1951.0,337.1C1952.1,319.7 1953.2,315.1 1954.3,315.1C1955.3,315.1 1956.3,372.2 1957.4,372.2C1958.2,372.2 1959.1,325.1 1959.9,325.1C1960.8,325.1 1961.6,347.1 1962.5,347.1C1963.7,347.1 1965.0,312.1 1966.3,312.1C1967.6,312.1 1968.8,382.2 1970.1,382.2C1971.0,382.2 1971.8,369.2 1972.7,369.2C1974.1,369.2 1975.6,423.2 1977.0,423.2C1978.1,423.2 1979.2,392.2 1980.3,384.2C1981.4,375.9 1982.5,382.9 1983.6,374.2C1984.6,366.5 1985.6,335.1 1986.6,335.1C1988.0,335.1 1989.4,577.3 1990.8,577.3C1992.0,577.3 1993.2,464.2 1994.4,464.2C1995.2,464.2 1996.0,573.3 1996.8,573.3C1998.1,573.3 1999.3,477.4 2000.6,454.2C2002.7,415.4 2004.8,387.2 2006.9,387.2C2007.4,387.2 2007.9,480.3 2008.5,480.3C2010.1,480.3 2011.7,392.2 2013.4,392.2C2015.0,392.2 2016.7,464.2 2018.4,464.2C2020.2,464.2 2022.1,353.1 2024.0,353.1C2025.0,353.1 2026.0,355.9 2027.1,362.2C2027.8,366.9 2028.6,386.2 2029.4,386.2C2030.4,386.2 2031.4,347.1 2032.4,347.1C2033.3,347.1 2034.3,390.1 2035.2,426.2C2035.8,448.1 2036.4,521.3 2037.0,521.3C2038.7,521.3 2040.4,403.2 2042.1,403.2C2042.9,403.2 2043.7,427.2 2044.5,427.2C2045.9,427.2 2047.3,330.1 2048.6,330.1C2049.7,330.1 2050.7,410.2 2051.8,410.2C2053.8,410.2 2055.9,336.1 2057.9,336.1C2060.6,336.1 2063.2,466.2 2065.9,466.2C2067.3,466.2 2068.7,365.2 2070.1,365.2C2070.9,365.2 2071.6,412.2 2072.4,412.2C2073.2,412.2 2074.1,401.5 2074.9,393.2C2076.9,372.4 2079.0,325.1 2081.0,325.1C2082.5,325.1 2084.0,452.2 2085.5,452.2C2087.1,452.2 2088.6,362.2 2090.2,362.2C2091.0,362.2 2091.8,377.2 2092.7,377.2C2093.2,377.2 2093.7,367.2 2094.3,367.2C2095.5,367.2 2096.7,393.1 2098.0,403.2C2098.5,407.4 2099.0,410.2 2099.5,410.2" fill="none" stroke="#000" stroke-width="1.35" stroke-linejoin="round" stroke-opacity="1.0"/>
<path d="M1147.0,588.0C1147.3,588.0 1147.6,392.0 1147.9,392.0C1148.9,392.0 1149.9,435.0 1150.9,435.0C1151.4,435.0 1152.0,416.0 1152.5,416.0C1153.0,416.0 1153.6,548.0 1154.1,548.0C1154.7,548.0 1155.4,440.0 1156.0,440.0C1157.2,440.0 1158.4,587.0 1159.6,587.0C1160.3,587.0 1161.1,368.0 1161.8,368.0C1163.4,368.0 1165.1,812.0 1166.7,812.0C1167.8,812.0 1168.9,559.3 1170.0,480.0C1170.7,431.9 1171.3,439.6 1172.0,430.0C1172.9,417.0 1173.8,412.0 1174.7,412.0C1175.8,412.0 1176.9,473.0 1178.0,473.0C1179.0,473.0 1180.0,337.0 1181.0,337.0C1182.0,337.0 1183.0,400.0 1184.0,400.0C1185.0,400.0 1185.9,390.0 1186.9,390.0C1189.0,390.0 1191.0,462.0 1193.1,462.0C1194.2,462.0 1195.3,340.0 1196.4,340.0C1197.3,340.0 1198.1,340.0 1199.0,354.0C1199.9,369.1 1200.9,553.0 1201.8,553.0C1202.5,553.0 1203.2,386.0 1203.9,386.0C1205.0,386.0 1206.2,630.0 1207.3,630.0C1208.6,630.0 1209.9,397.0 1211.2,397.0C1212.1,397.0 1213.0,486.0 1213.9,486.0C1214.8,486.0 1215.7,392.0 1216.6,392.0C1217.2,392.0 1217.9,397.2 1218.5,408.0C1219.2,420.5 1220.0,462.0 1220.7,462.0C1221.6,462.0 1222.5,370.0 1223.4,370.0C1224.8,370.0 1226.3,686.0 1227.7,686.0C1229.1,686.0 1230.6,470.0 1232.0,470.0C1233.3,470.0 1234.5,744.0 1235.8,744.0C1238.0,744.0 1240.1,360.0 1242.3,360.0C1243.6,360.0 1244.9,630.0 1246.2,630.0C1247.1,630.0 1248.1,416.0 1249.0,416.0C1249.7,416.0 1250.4,606.0 1251.1,606.0C1252.4,606.0 1253.7,332.0 1255.0,332.0C1256.0,332.0 1257.0,545.0 1258.0,545.0C1259.3,545.0 1260.5,358.0 1261.8,358.0C1262.9,358.0 1263.9,653.0 1265.0,653.0C1266.4,653.0 1267.9,381.0 1269.3,381.0C1270.2,381.0 1271.1,413.0 1272.0,413.0C1273.6,413.0 1275.3,346.0 1276.9,346.0C1277.8,346.0 1278.7,548.0 1279.6,548.0C1280.9,548.0 1282.1,395.0 1283.4,395.0C1284.5,395.0 1285.6,570.0 1286.7,570.0C1288.1,570.0 1289.6,373.0 1291.0,373.0C1291.8,373.0 1292.7,570.0 1293.5,570.0C1294.0,570.0 1294.4,456.0 1294.9,456.0C1296.4,456.0 1298.0,523.0 1299.5,523.0C1300.4,523.0 1301.3,402.0 1302.2,402.0C1303.6,402.0 1304.9,674.0 1306.3,674.0C1307.2,674.0 1308.0,445.0 1308.9,445.0C1310.2,445.0 1311.4,648.0 1312.7,648.0C1313.7,648.0 1314.7,413.0 1315.7,413.0C1316.6,413.0 1317.5,425.4 1318.4,456.0C1319.3,485.4 1320.1,593.0 1321.0,593.0C1323.3,593.0 1325.5,306.0 1327.8,306.0C1328.7,306.0 1329.6,429.0 1330.5,429.0C1331.6,429.0 1332.7,321.0 1333.8,321.0C1335.0,321.0 1336.1,464.0 1337.3,464.0C1338.2,464.0 1339.1,304.0 1340.0,304.0C1340.9,304.0 1341.8,312.6 1342.7,391.0C1343.2,431.6 1343.6,661.0 1344.1,661.0C1344.9,661.0 1345.7,540.0 1346.5,540.0C1347.6,540.0 1348.7,737.0 1349.8,737.0C1350.4,737.0 1350.9,640.0 1351.5,640.0C1352.2,640.0 1352.9,678.0 1353.6,678.0C1354.4,678.0 1355.2,547.4 1356.0,500.0C1357.0,442.7 1357.9,364.0 1358.9,364.0C1359.3,364.0 1359.6,542.0 1360.0,542.0C1361.0,542.0 1362.0,329.0 1363.0,329.0C1363.9,329.0 1364.8,527.0 1365.7,527.0C1366.6,527.0 1367.5,316.0 1368.4,316.0C1369.6,316.0 1370.8,480.0 1372.0,480.0C1373.3,480.0 1374.6,426.0 1375.9,426.0C1377.2,426.0 1378.4,640.0 1379.7,640.0C1380.8,640.0 1381.9,500.0 1383.0,500.0C1384.2,500.0 1385.3,689.0 1386.5,689.0C1388.4,689.0 1390.3,258.0 1392.2,258.0C1394.3,258.0 1396.4,689.0 1398.5,689.0C1400.2,689.0 1401.8,337.0 1403.5,337.0C1404.4,337.0 1405.3,560.0 1406.2,560.0C1407.6,560.0 1408.9,310.0 1410.3,310.0C1411.5,310.0 1412.8,416.6 1414.0,500.0C1415.2,578.9 1416.3,797.0 1417.5,797.0C1418.7,797.0 1419.8,488.1 1421.0,400.0C1421.9,329.5 1422.9,343.6 1423.8,321.0C1424.7,299.2 1425.6,267.0 1426.5,267.0C1427.4,267.0 1428.3,267.0 1429.2,270.0C1429.8,272.0 1430.4,290.0 1431.0,290.0C1431.7,290.0 1432.5,250.1 1433.2,248.0C1434.6,244.0 1435.9,248.0 1437.3,244.0C1437.9,242.3 1438.4,203.0 1439.0,203.0C1439.7,203.0 1440.3,203.0 1441.0,214.0C1441.7,225.0 1442.3,398.0 1443.0,398.0C1444.1,398.0 1445.3,172.0 1446.4,172.0C1447.1,172.0 1447.8,200.0 1448.5,200.0C1449.2,200.0 1450.0,192.0 1450.7,192.0C1452.0,192.0 1453.4,426.0 1454.7,426.0C1456.1,426.0 1457.4,214.0 1458.8,214.0C1460.3,214.0 1461.9,382.0 1463.4,382.0C1464.3,382.0 1465.2,268.0 1466.1,268.0C1467.1,268.0 1468.0,290.0 1469.0,290.0C1470.3,290.0 1471.5,285.0 1472.8,285.0C1475.5,285.0 1478.3,601.0 1481.0,601.0C1482.0,601.0 1483.0,508.7 1484.0,470.0C1485.3,418.4 1486.7,362.4 1488.0,330.0C1489.4,295.1 1490.9,268.0 1492.3,268.0C1493.5,268.0 1494.6,322.0 1495.8,322.0C1496.9,322.0 1497.9,246.0 1499.0,246.0C1499.6,246.0 1500.1,519.0 1500.7,519.0C1502.0,519.0 1503.4,211.0 1504.7,211.0C1505.6,211.0 1506.5,263.0 1507.4,263.0C1508.7,263.0 1509.9,183.0 1511.2,183.0C1512.4,183.0 1513.5,186.8 1514.7,200.0C1515.8,212.5 1516.9,219.6 1518.0,260.0C1519.2,302.9 1520.3,450.0 1521.5,450.0C1522.7,450.0 1523.8,232.0 1525.0,232.0C1526.4,232.0 1527.7,376.0 1529.1,376.0C1530.2,376.0 1531.2,180.0 1532.3,180.0C1533.2,180.0 1534.1,182.5 1535.0,192.0C1536.0,202.5 1537.0,240.0 1538.0,240.0C1539.5,240.0 1541.1,198.0 1542.6,198.0C1543.2,198.0 1543.9,410.0 1544.5,410.0C1545.8,410.0 1547.2,175.0 1548.5,175.0C1549.7,175.0 1550.8,483.0 1552.0,483.0C1554.0,483.0 1556.0,244.0 1558.0,244.0C1559.8,244.0 1561.6,614.0 1563.4,614.0C1564.3,614.0 1565.2,282.0 1566.1,282.0C1567.1,282.0 1568.0,405.0 1569.0,405.0C1570.3,405.0 1571.5,287.0 1572.8,287.0C1573.9,287.0 1575.1,514.0 1576.2,514.0C1578.2,514.0 1580.3,298.0 1582.3,298.0C1583.0,298.0 1583.8,341.2 1584.5,400.0C1585.5,477.5 1586.4,707.0 1587.4,707.0C1588.5,707.0 1589.7,374.0 1590.8,374.0C1592.1,374.0 1593.4,597.0 1594.7,597.0C1595.9,597.0 1597.2,388.0 1598.4,388.0C1599.0,388.0 1599.6,531.0 1600.2,531.0C1601.1,531.0 1602.1,364.0 1603.0,364.0C1603.5,364.0 1604.0,380.0 1604.5,380.0C1605.1,380.0 1605.6,328.0 1606.2,328.0C1607.0,328.0 1607.9,386.0 1608.7,386.0C1610.1,386.0 1611.6,272.0 1613.0,272.0C1613.9,272.0 1614.8,415.0 1615.7,415.0C1616.9,415.0 1618.0,282.0 1619.2,282.0C1619.8,282.0 1620.4,300.0 1621.0,300.0C1622.2,300.0 1623.4,193.0 1624.6,193.0C1625.5,193.0 1626.4,215.0 1627.3,215.0C1627.9,215.0 1628.6,201.0 1629.2,201.0C1629.9,201.0 1630.7,261.0 1631.4,261.0C1632.7,261.0 1634.1,212.0 1635.4,212.0C1636.3,212.0 1637.2,250.0 1638.1,250.0C1639.7,250.0 1641.4,181.0 1643.0,181.0C1643.9,181.0 1644.8,256.5 1645.7,299.0C1646.7,347.8 1647.8,455.0 1648.8,455.0C1649.7,455.0 1650.7,252.5 1651.6,239.0C1652.5,226.0 1653.4,232.3 1654.3,226.0C1655.2,219.7 1656.1,201.0 1657.0,201.0C1658.3,201.0 1659.7,207.0 1661.0,207.0C1662.7,207.0 1664.3,193.0 1666.0,193.0C1667.1,193.0 1668.1,207.0 1669.2,207.0C1670.5,207.0 1671.9,199.0 1673.2,199.0C1674.4,199.0 1675.6,226.0 1676.8,226.0C1677.9,226.0 1678.9,212.0 1680.0,212.0C1680.7,212.0 1681.5,223.0 1682.2,223.0C1683.1,223.0 1684.0,207.0 1684.9,207.0C1685.8,207.0 1686.7,258.0 1687.6,258.0C1688.7,258.0 1689.7,215.0 1690.8,215.0C1691.7,215.0 1692.6,239.0 1693.5,239.0C1694.6,239.0 1695.7,211.0 1696.8,211.0C1698.1,211.0 1699.5,332.0 1700.8,332.0C1702.0,332.0 1703.1,221.9 1704.3,218.0C1705.2,215.0 1706.1,215.0 1707.0,215.0C1708.1,215.0 1709.2,247.0 1710.3,247.0C1711.7,247.0 1713.2,226.0 1714.6,226.0C1715.9,226.0 1717.1,255.0 1718.4,255.0C1719.6,255.0 1720.7,232.6 1721.9,228.0C1723.7,220.9 1725.5,222.8 1727.3,220.0C1727.4,219.8 1727.6,219.0 1727.7,219.0C1729.1,219.0 1730.4,223.7 1731.8,225.0C1733.1,226.3 1734.5,225.0 1735.8,227.0C1736.5,228.1 1737.3,237.0 1738.0,237.0C1738.7,237.0 1739.3,228.0 1740.0,228.0C1740.6,228.0 1741.2,261.0 1741.8,261.0C1742.5,261.0 1743.2,249.1 1743.9,245.0C1744.8,239.8 1745.7,233.0 1746.6,233.0C1748.0,233.0 1749.3,233.0 1750.7,234.0C1751.9,234.9 1753.0,244.0 1754.2,244.0C1755.3,244.0 1756.3,237.0 1757.4,237.0C1758.8,237.0 1760.1,238.8 1761.5,240.0C1762.8,241.2 1764.2,241.2 1765.5,244.0C1766.2,245.5 1767.0,253.0 1767.7,253.0C1768.3,253.0 1769.0,249.8 1769.6,249.0C1770.9,247.4 1772.3,246.0 1773.6,246.0C1775.0,246.0 1776.3,246.7 1777.7,252.0C1779.3,258.4 1781.0,281.0 1782.6,281.0C1783.7,281.0 1784.7,266.3 1785.8,264.0C1787.2,261.0 1788.5,261.0 1789.9,261.0C1791.3,261.0 1792.6,266.1 1794.0,269.0C1794.9,270.8 1795.7,273.6 1796.6,275.0C1798.0,277.2 1799.3,277.8 1800.7,280.0C1802.0,282.1 1803.4,280.0 1804.7,288.0C1806.1,296.2 1807.4,334.0 1808.8,334.0C1809.5,334.0 1810.3,299.0 1811.0,299.0C1813.0,299.0 1814.9,305.8 1816.9,310.0C1818.7,313.8 1820.5,318.0 1822.3,323.0C1824.1,328.0 1825.9,333.2 1827.7,340.0C1829.5,346.8 1831.3,352.8 1833.1,364.0C1833.8,368.1 1834.4,381.4 1835.1,386.0C1836.0,392.4 1837.0,386.0 1837.9,397.0C1838.9,408.4 1839.8,424.0 1840.8,464.0C1841.3,483.3 1841.7,575.0 1842.2,575.0C1842.9,575.0 1843.7,493.2 1844.4,464.0C1845.1,437.5 1845.7,416.4 1846.4,408.0C1847.8,390.4 1849.2,394.2 1850.6,386.0C1851.5,380.5 1852.5,371.4 1853.4,367.0C1854.0,364.0 1854.7,364.0 1855.3,364.0C1856.1,364.0 1856.8,407.0 1857.6,407.0C1858.4,407.0 1859.3,347.1 1860.1,342.0C1861.9,331.0 1863.7,331.0 1865.5,331.0C1866.4,331.0 1867.3,331.0 1868.2,337.0C1869.1,343.2 1870.1,369.0 1871.0,369.0C1871.7,369.0 1872.4,324.5 1873.1,321.0C1873.3,320.0 1873.5,320.6 1873.7,320.0C1874.5,317.3 1875.4,315.0 1876.2,311.0C1877.3,305.7 1878.4,292.0 1879.5,292.0C1880.5,292.0 1881.4,303.5 1882.4,307.0C1883.3,310.2 1884.1,307.0 1885.0,312.0C1886.2,318.7 1887.3,589.0 1888.5,589.0C1889.6,589.0 1890.8,310.3 1891.9,308.0C1892.9,306.0 1893.9,306.0 1894.9,306.0C1896.4,306.0 1897.8,330.0 1899.3,330.0C1900.3,330.0 1901.3,304.0 1902.3,304.0C1903.5,304.0 1904.8,307.7 1906.0,310.0C1906.9,311.7 1907.7,314.6 1908.6,316.0C1909.8,318.0 1911.1,320.0 1912.3,320.0C1913.5,320.0 1914.8,317.0 1916.0,317.0C1916.8,317.0 1917.7,322.0 1918.5,322.0C1919.7,322.0 1921.0,310.0 1922.2,310.0C1923.5,310.0 1924.7,314.1 1926.0,316.0C1927.0,317.5 1928.0,320.0 1929.0,320.0C1929.9,320.0 1930.8,301.0 1931.7,301.0C1932.5,301.0 1933.4,325.0 1934.2,325.0C1935.2,325.0 1936.2,315.0 1937.2,315.0C1938.4,315.0 1939.7,318.0 1940.9,321.0C1942.1,324.0 1943.4,331.0 1944.6,333.0C1945.8,335.0 1947.1,335.0 1948.3,335.0C1949.1,335.0 1950.0,324.0 1950.8,324.0C1952.1,324.0 1953.3,337.0 1954.6,337.0C1955.6,337.0 1956.6,325.0 1957.6,325.0C1958.4,325.0 1959.2,340.0 1960.0,340.0C1961.1,340.0 1962.2,330.0 1963.3,330.0C1964.5,330.0 1965.8,336.0 1967.0,337.0C1968.2,338.0 1969.5,337.0 1970.7,338.0C1972.3,339.3 1974.0,390.0 1975.6,390.0C1976.9,390.0 1978.2,339.7 1979.5,338.0C1981.0,336.0 1982.6,336.0 1984.1,336.0C1986.2,336.0 1988.3,595.0 1990.4,595.0C1991.3,595.0 1992.2,377.0 1993.1,377.0C1994.1,377.0 1995.2,628.0 1996.2,628.0C1999.1,628.0 2001.9,335.0 2004.8,335.0C2006.1,335.0 2007.4,369.0 2008.7,369.0C2010.6,369.0 2012.6,361.0 2014.5,361.0C2016.4,361.0 2018.4,361.0 2020.3,361.0C2021.6,361.0 2022.9,357.0 2024.2,357.0C2026.1,357.0 2028.1,357.0 2030.0,359.0C2031.7,360.8 2033.4,608.0 2035.1,608.0C2036.7,608.0 2038.2,365.0 2039.8,365.0C2041.1,365.0 2042.4,420.0 2043.7,420.0C2045.0,420.0 2046.3,367.0 2047.6,367.0C2050.2,367.0 2052.8,367.7 2055.4,369.0C2058.0,370.3 2060.6,373.7 2063.2,375.0C2065.8,376.3 2068.3,376.2 2070.9,377.0C2072.9,377.6 2074.8,377.0 2076.8,379.0C2079.4,381.6 2082.0,482.0 2084.6,482.0C2085.9,482.0 2087.2,381.0 2088.5,381.0C2089.8,381.0 2091.0,408.0 2092.3,408.0C2093.4,408.0 2094.4,388.0 2095.5,388.0C2096.4,388.0 2097.3,439.5 2098.2,500.0C2098.6,529.1 2099.1,657.0 2099.5,657.0" fill="none" stroke="#1010d0" stroke-width="1.25" stroke-linejoin="round" stroke-opacity="1.0"/>
</g>
<path d="M90.5,59.5H1022.5V850.5H90.5ZM90.5,850.5v-9M90.5,59.5v9M183.5,850.5v-9M183.5,59.5v9M276.5,850.5v-9M276.5,59.5v9M370.5,850.5v-9M370.5,59.5v9M463.5,850.5v-9M463.5,59.5v9M556.5,850.5v-9M556.5,59.5v9M649.5,850.5v-9M649.5,59.5v9M742.5,850.5v-9M742.5,59.5v9M836.5,850.5v-9M836.5,59.5v9M929.5,850.5v-9M929.5,59.5v9M1022.5,850.5v-9M1022.5,59.5v9M90.5,809.5h9M1022.5,809.5h-9M90.5,726.5h9M1022.5,726.5h-9M90.5,642.5h9M1022.5,642.5h-9M90.5,559.5h9M1022.5,559.5h-9M90.5,475.5h9M1022.5,475.5h-9M90.5,392.5h9M1022.5,392.5h-9M90.5,309.5h9M1022.5,309.5h-9M90.5,225.5h9M1022.5,225.5h-9M90.5,142.5h9M1022.5,142.5h-9" fill="none" stroke="#7c7c7c" stroke-width="1"/>
<path d="M1147.0,59.5H2099.5V852.5H1147.0ZM1147.5,852.5v-9M1147.5,59.5v9M1242.5,852.5v-9M1242.5,59.5v9M1337.5,852.5v-9M1337.5,59.5v9M1432.5,852.5v-9M1432.5,59.5v9M1528.5,852.5v-9M1528.5,59.5v9M1623.5,852.5v-9M1623.5,59.5v9M1718.5,852.5v-9M1718.5,59.5v9M1813.5,852.5v-9M1813.5,59.5v9M1909.5,852.5v-9M1909.5,59.5v9M2004.5,852.5v-9M2004.5,59.5v9M2099.5,852.5v-9M2099.5,59.5v9M1147.0,810.5h9M2099.5,810.5h-9M1147.0,726.5h9M2099.5,726.5h-9M1147.0,643.5h9M2099.5,643.5h-9M1147.0,559.5h9M2099.5,559.5h-9M1147.0,476.5h9M2099.5,476.5h-9M1147.0,392.5h9M2099.5,392.5h-9M1147.0,309.5h9M2099.5,309.5h-9M1147.0,225.5h9M2099.5,225.5h-9M1147.0,142.5h9M2099.5,142.5h-9" fill="none" stroke="#7c7c7c" stroke-width="1"/>
<text x="90.4" y="881.5" font-size="27.5" text-anchor="middle"  style="">3400</text>
<text x="183.6" y="881.5" font-size="27.5" text-anchor="middle"  style="">3600</text>
<text x="276.8" y="881.5" font-size="27.5" text-anchor="middle"  style="">3800</text>
<text x="370.1" y="881.5" font-size="27.5" text-anchor="middle"  style="">4000</text>
<text x="463.3" y="881.5" font-size="27.5" text-anchor="middle"  style="">4200</text>
<text x="556.5" y="881.5" font-size="27.5" text-anchor="middle"  style="">4400</text>
<text x="649.7" y="881.5" font-size="27.5" text-anchor="middle"  style="">4600</text>
<text x="742.9" y="881.5" font-size="27.5" text-anchor="middle"  style="">4800</text>
<text x="836.2" y="881.5" font-size="27.5" text-anchor="middle"  style="">5000</text>
<text x="929.4" y="881.5" font-size="27.5" text-anchor="middle"  style="">5200</text>
<text x="1022.6" y="881.5" font-size="27.5" text-anchor="middle"  style="">5400</text>
<text x="81.4" y="816.3" font-size="27.5" text-anchor="end"  style="">0.6</text>
<text x="81.4" y="732.9" font-size="27.5" text-anchor="end"  style="">0.7</text>
<text x="81.4" y="649.5" font-size="27.5" text-anchor="end"  style="">0.8</text>
<text x="81.4" y="566.1" font-size="27.5" text-anchor="end"  style="">0.9</text>
<text x="81.4" y="482.8" font-size="27.5" text-anchor="end"  style="">1</text>
<text x="81.4" y="399.4" font-size="27.5" text-anchor="end"  style="">1.1</text>
<text x="81.4" y="316.0" font-size="27.5" text-anchor="end"  style="">1.2</text>
<text x="81.4" y="232.6" font-size="27.5" text-anchor="end"  style="">1.3</text>
<text x="81.4" y="149.2" font-size="27.5" text-anchor="end"  style="">1.4</text>
<text x="81.4" y="65.8" font-size="27.5" text-anchor="end"  style="">1.5</text>
<text x="1147.0" y="883.2" font-size="27.5" text-anchor="middle"  style="">3400</text>
<text x="1242.2" y="883.2" font-size="27.5" text-anchor="middle"  style="">3600</text>
<text x="1337.5" y="883.2" font-size="27.5" text-anchor="middle"  style="">3800</text>
<text x="1432.8" y="883.2" font-size="27.5" text-anchor="middle"  style="">4000</text>
<text x="1528.0" y="883.2" font-size="27.5" text-anchor="middle"  style="">4200</text>
<text x="1623.2" y="883.2" font-size="27.5" text-anchor="middle"  style="">4400</text>
<text x="1718.5" y="883.2" font-size="27.5" text-anchor="middle"  style="">4600</text>
<text x="1813.8" y="883.2" font-size="27.5" text-anchor="middle"  style="">4800</text>
<text x="1909.0" y="883.2" font-size="27.5" text-anchor="middle"  style="">5000</text>
<text x="2004.2" y="883.2" font-size="27.5" text-anchor="middle"  style="">5200</text>
<text x="2099.5" y="883.2" font-size="27.5" text-anchor="middle"  style="">5400</text>
<text x="1138.0" y="816.8" font-size="27.5" text-anchor="end"  style="">0.6</text>
<text x="1138.0" y="733.4" font-size="27.5" text-anchor="end"  style="">0.7</text>
<text x="1138.0" y="649.9" font-size="27.5" text-anchor="end"  style="">0.8</text>
<text x="1138.0" y="566.5" font-size="27.5" text-anchor="end"  style="">0.9</text>
<text x="1138.0" y="483.0" font-size="27.5" text-anchor="end"  style="">1</text>
<text x="1138.0" y="399.5" font-size="27.5" text-anchor="end"  style="">1.1</text>
<text x="1138.0" y="316.1" font-size="27.5" text-anchor="end"  style="">1.2</text>
<text x="1138.0" y="232.6" font-size="27.5" text-anchor="end"  style="">1.3</text>
<text x="1138.0" y="149.2" font-size="27.5" text-anchor="end"  style="">1.4</text>
<text x="1138.0" y="65.7" font-size="27.5" text-anchor="end"  style="">1.5</text>
<text transform="translate(34.2,456) rotate(-90)" font-size="29.5" text-anchor="middle" textLength="274" lengthAdjust="spacingAndGlyphs"><tspan font-style="italic">F</tspan><tspan font-size="20" dy="5">λ</tspan><tspan dy="-5"> (erg cm</tspan><tspan font-size="20" dy="-11">−2</tspan><tspan dy="11"> s</tspan><tspan font-size="20" dy="-11">−1</tspan><tspan dy="11"> Å</tspan><tspan font-size="20" dy="-11">−1</tspan><tspan dy="11">)</tspan></text>
<text x="733.0" y="96.0" font-size="28.5" style="font-style:italic;">T</text>
<text x="751.5" y="99.6" font-size="19" textLength="32.0" lengthAdjust="spacingAndGlyphs" style="">WD</text>
<text x="792.0" y="96.0" font-size="28.5" textLength="22.6" lengthAdjust="spacingAndGlyphs" style="">=</text>
<text x="821.3" y="96.0" font-size="28.5" textLength="68.2" lengthAdjust="spacingAndGlyphs" style="">13780</text>
<text x="895.2" y="96.0" font-size="28.5" textLength="22.6" lengthAdjust="spacingAndGlyphs" style="">±</text>
<text x="923.3" y="96.0" font-size="28.5" textLength="40.7" lengthAdjust="spacingAndGlyphs" style="">380</text>
<text x="971.5" y="96.0" font-size="28.5" textLength="20.0" lengthAdjust="spacingAndGlyphs" style="font-style:italic;">K</text>
<text x="733.0" y="128.3" font-size="28.5" style="font-style:italic;">T</text>
<text x="749.5" y="131.9" font-size="19" textLength="52.0" lengthAdjust="spacingAndGlyphs" style="">Donor</text>
<text x="809.8" y="128.3" font-size="28.5" textLength="21.9" lengthAdjust="spacingAndGlyphs" style="">=</text>
<text x="838.5" y="128.3" font-size="28.5" textLength="55.5" lengthAdjust="spacingAndGlyphs" style="">6090</text>
<text x="899.0" y="128.3" font-size="28.5" textLength="22.7" lengthAdjust="spacingAndGlyphs" style="">±</text>
<text x="926.8" y="128.3" font-size="28.5" textLength="27.8" lengthAdjust="spacingAndGlyphs" style="">40</text>
<text x="961.5" y="128.3" font-size="28.5" textLength="18.0" lengthAdjust="spacingAndGlyphs" style="font-style:italic;">K</text>
<text x="1802.8" y="98.8" font-size="28.5" style="font-style:italic;">T</text>
<text x="1821.2" y="102.4" font-size="19" textLength="32.3" lengthAdjust="spacingAndGlyphs" style="">WD</text>
<text x="1862.6" y="98.8" font-size="28.5" textLength="22.7" lengthAdjust="spacingAndGlyphs" style="">=</text>
<text x="1891.3" y="98.8" font-size="28.5" textLength="68.7" lengthAdjust="spacingAndGlyphs" style="">12600</text>
<text x="1965.9" y="98.8" font-size="28.5" textLength="22.6" lengthAdjust="spacingAndGlyphs" style="">±</text>
<text x="1993.9" y="98.8" font-size="28.5" textLength="40.7" lengthAdjust="spacingAndGlyphs" style="">500</text>
<text x="2042.4" y="98.8" font-size="28.5" textLength="18.8" lengthAdjust="spacingAndGlyphs" style="font-style:italic;">K</text>
<text x="1802.8" y="131.7" font-size="28.5" style="font-style:italic;">T</text>
<text x="1819.2" y="135.3" font-size="19" textLength="52.9" lengthAdjust="spacingAndGlyphs" style="">Donor</text>
<text x="1879.7" y="131.7" font-size="28.5" textLength="22.6" lengthAdjust="spacingAndGlyphs" style="">=</text>
<text x="1908.4" y="131.7" font-size="28.5" textLength="55.6" lengthAdjust="spacingAndGlyphs" style="">6000</text>
<text x="1969.8" y="131.7" font-size="28.5" textLength="21.8" lengthAdjust="spacingAndGlyphs" style="">±</text>
<text x="1996.7" y="131.7" font-size="28.5" textLength="27.0" lengthAdjust="spacingAndGlyphs" style="">80</text>
<text x="2032.3" y="131.7" font-size="28.5" textLength="19.3" lengthAdjust="spacingAndGlyphs" style="font-style:italic;">K</text>
<text x="-0.8" y="41.9" font-size="38" textLength="21.3" lengthAdjust="spacingAndGlyphs" style="">a</text>
<text x="21.5" y="43.3" font-size="47.6" textLength="12.7" lengthAdjust="spacingAndGlyphs" style="">)</text>
<text x="1046.2" y="32.9" font-size="42" textLength="22.8" lengthAdjust="spacingAndGlyphs" style="">b</text>
<text x="1071.1" y="33.4" font-size="47.6" textLength="13.4" lengthAdjust="spacingAndGlyphs" style="">)</text>
<text x="91.0" y="53.0" font-size="30" textLength="19.2" lengthAdjust="spacingAndGlyphs" style="">×</text>
<text x="113.0" y="50.4" font-size="28.5" textLength="24.8" lengthAdjust="spacingAndGlyphs" style="">10</text>
<text x="140.0" y="39.8" font-size="19" textLength="12.2" lengthAdjust="spacingAndGlyphs" style="">−</text>
<text x="154.3" y="39.8" font-size="19" textLength="18.4" lengthAdjust="spacingAndGlyphs" style="">16</text>
<text x="1148.0" y="52.5" font-size="30" textLength="18.4" lengthAdjust="spacingAndGlyphs" style="">×</text>
<text x="1167.9" y="49.9" font-size="28.5" textLength="27.1" lengthAdjust="spacingAndGlyphs" style="">10</text>
<text x="1197.0" y="40.0" font-size="19" textLength="12.1" lengthAdjust="spacingAndGlyphs" style="">−</text>
<text x="1209.9" y="40.0" font-size="19" textLength="19.5" lengthAdjust="spacingAndGlyphs" style="">16</text>
<text x="453.0" y="916.0" font-size="31.5" textLength="152.0" lengthAdjust="spacingAndGlyphs" style="">Wavelength</text>
<text x="616.8" y="916.0" font-size="31.5" textLength="42.8" lengthAdjust="spacingAndGlyphs" style="">(Å)</text>
<text x="1519.4" y="917.1" font-size="31.5" textLength="151.4" lengthAdjust="spacingAndGlyphs" style="">Wavelength</text>
<text x="1681.3" y="917.1" font-size="31.5" textLength="43.9" lengthAdjust="spacingAndGlyphs" style="">(Å)</text>
<rect x="459.5" y="745.5" width="546.0" height="108.0" fill="#fff" stroke="#7c7c7c" stroke-width="1"/>
<line x1="479.8" y1="774.0" x2="511.9" y2="774.0" stroke="#606060" stroke-width="1.4"/>
<line x1="479.8" y1="825.3" x2="511.9" y2="825.3" stroke="#e85a5a" stroke-width="1.2"/>
<text x="515.3" y="780.6" font-size="27" textLength="469.7" lengthAdjust="spacingAndGlyphs">Coadded LRIS spectrum (donor rest frame)</text>
<text x="515.3" y="831.4" font-size="27" textLength="404.3" lengthAdjust="spacingAndGlyphs">Best fit composite atmospheric model</text>
<rect x="1431.5" y="747.5" width="647.0" height="107.0" fill="#fff" stroke="#7c7c7c" stroke-width="1"/>
<line x1="1455.0" y1="775.5" x2="1487.8" y2="775.5" stroke="#606060" stroke-width="1.4"/>
<line x1="1455.0" y1="826.5" x2="1487.8" y2="826.5" stroke="#5a5ae0" stroke-width="1.2"/>
<text x="1490.9" y="782.3" font-size="27" textLength="468.9" lengthAdjust="spacingAndGlyphs">Coadded LRIS spectrum (donor rest frame)</text>
<text x="1490.9" y="832.7" font-size="27" textLength="563.5" lengthAdjust="spacingAndGlyphs">Best fit composite atmospheric model based on SED</text>
</svg>
</body></html>
